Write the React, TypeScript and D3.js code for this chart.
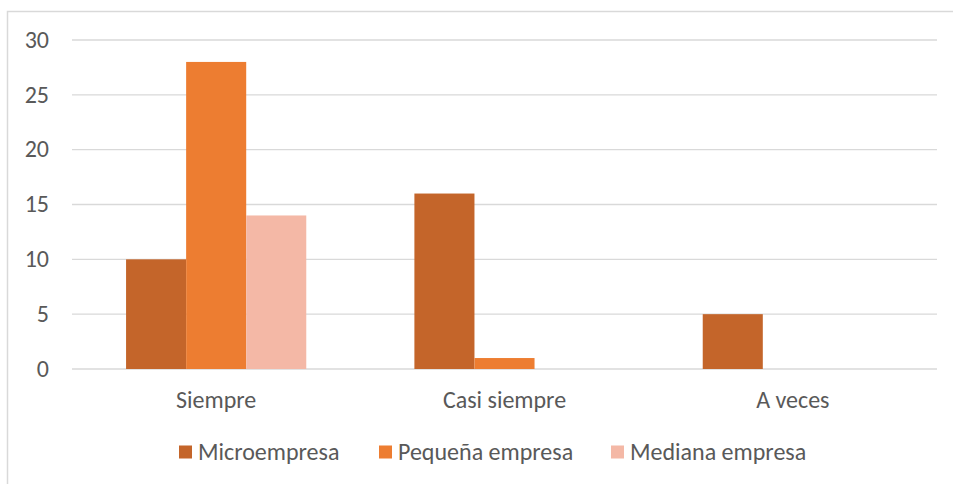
import React from "react";
import * as d3 from "d3";

const categories = ["Siempre", "Casi siempre", "A veces"];
const seriesNames = ["Microempresa", "Pequeña empresa", "Mediana empresa"];
const microValues = [10, 16, 5];
const pequenaValues = [28, 1, 0];
const medianaValues = [14, 0, 0];
const yTicks = [0, 5, 10, 15, 20, 25, 30];
const colors = ["#C4652A", "#ED7D31", "#F4B8A6"];

const W = 953;
const H = 484;
const plot = { left: 72, right: 937, top: 40, bottom: 369 };
const FONT = "Carlito, Calibri, 'Open Sans', sans-serif";
const FS = 24;

export default function App() {
  const values = [microValues, pequenaValues, medianaValues];
  const x = d3.scaleBand<string>().domain(categories).range([plot.left, plot.right]).paddingInner(0).paddingOuter(0);
  const y = d3.scaleLinear().domain([0, 30]).range([plot.bottom, plot.top]);
  const groupW = x.bandwidth() * 0.625;
  const x1 = d3.scaleBand<number>().domain([0, 1, 2]).range([0, groupW]);

  const legendX = [179, 379, 611];

  return (
    <svg width={W} height={H} style={{ position: "absolute", left: 0, top: 0, fontFamily: FONT }}>
      <rect x={0} y={0} width={W} height={H} fill="#fff" />
      <rect x={7.5} y={11.5} width={W + 10} height={H + 10} fill="none" stroke="#D9D9D9" strokeWidth={1.5} />
      {yTicks.map((t) => (
        <g key={t}>
          <line x1={plot.left} x2={plot.right} y1={y(t)} y2={y(t)} stroke="#D9D9D9" strokeWidth={1.3} />
          <text x={49} y={y(t)} dy="0.32em" textAnchor="end" fontSize={FS} fill="#595959">
            {t}
          </text>
        </g>
      ))}
      {categories.map((c, ci) => (
        <g key={c}>
          {values.map((vals, si) => {
            const v = vals[ci];
            if (!v) return null;
            const bx = (x(c) as number) + (x.bandwidth() - groupW) / 2 + (x1(si) as number);
            return (
              <rect key={si} x={bx} y={y(v)} width={x1.bandwidth()} height={y(0) - y(v)} fill={colors[si]} />
            );
          })}
          <text x={(x(c) as number) + x.bandwidth() / 2} y={400} dy="0.32em" textAnchor="middle" fontSize={FS} fill="#595959">
            {c}
          </text>
        </g>
      ))}
      {seriesNames.map((n, i) => (
        <g key={n}>
          <rect x={legendX[i]} y={445.5} width={13} height={13} fill={colors[i]} />
          <text x={legendX[i] + 19} y={452} dy="0.32em" fontSize={FS} fill="#595959">
            {n}
          </text>
        </g>
      ))}
    </svg>
  );
}
